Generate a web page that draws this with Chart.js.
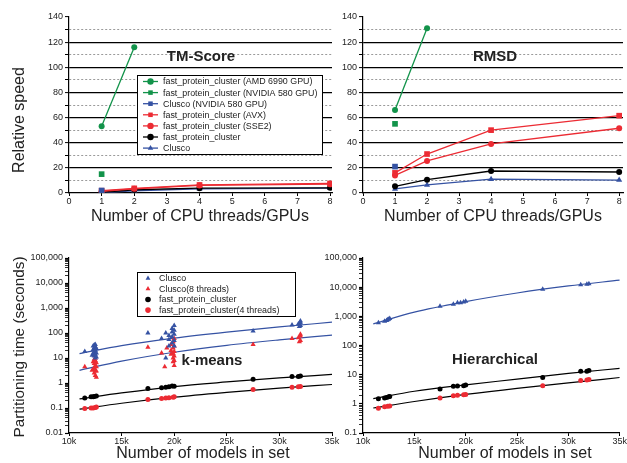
<!DOCTYPE html>
<html><head><meta charset="utf-8">
<script src="https://cdn.jsdelivr.net/npm/chart.js@4.4.1/dist/chart.umd.min.js"></script>
<style>
html,body{margin:0;padding:0;background:#fff;}
body{width:627px;height:463px;position:relative;overflow:hidden;}
canvas{position:absolute;left:0;top:0;}
</style></head><body>
<canvas id="tm" width="627" height="463"></canvas>
<canvas id="rmsd" width="627" height="463"></canvas>
<canvas id="km" width="627" height="463"></canvas>
<canvas id="hc" width="627" height="463"></canvas>
<script>
// ---------- DATA ----------
const threads = [1, 2, 4, 8];
const speedSeriesNames = [
  'fast_protein_cluster (AMD 6990 GPU)',
  'fast_protein_cluster (NVIDIA 580 GPU)',
  'Clusco (NVIDIA 580 GPU)',
  'fast_protein_cluster (AVX)',
  'fast_protein_cluster (SSE2)',
  'fast_protein_cluster',
  'Clusco'
];
// TM-Score relative speed
const tmAMD = [53, 116];
const tmNvidiaFpc = [15];
const tmNvidiaClusco = [2];
const tmAVX = [1.8, 3.7, 6.4, 7.6];
const tmSSE2 = [1.4, 3.3, 6.0, 7.0];
const tmFpc = [0.6, 2.6, 3.8, 4.1];
const tmClusco = [0.3, 1.8, 3.3, 3.8];
// RMSD relative speed
const rmsdAMD = [66, 131];
const rmsdNvidiaFpc = [55];
const rmsdNvidiaClusco = [21];
const rmsdAVX = [16, 31, 50, 61.5];
const rmsdSSE2 = [14, 25.5, 39, 51.5];
const rmsdFpc = [5.3, 10.6, 17.5, 16.7];
const rmsdClusco = [3.2, 6.4, 11, 10.3];

const speedTickStep = 10;

// Partitioning times
const timeSeriesNames = ['Clusco', 'Clusco(8 threads)', 'fast_protein_cluster', 'fast_protein_cluster(4 threads)'];
const modelTickLabels = ['10k', '15k', '20k', '25k', '30k', '35k'];

// k-means scatter
const kmCluscoX = [11500,12200,12300,12300,12300,12400,12400,12400,12400,12500,12500,12500,12500,12500,12600,12600,12600,17500,18800,19200,19200,19500,19500,19500,19800,19800,19800,19800,20000,20000,20000,20000,20000,27500,31200,31800,31900,32000,32000,32000];
const kmCluscoY = [18,13,15,22,30,12,18,25,33,10,14,20,28,35,11,16,24,100,60,100,10,30,55,80,40,70,110,150,30,50,90,130,200,120,210,230,180,200,260,300];
const kmClusco8X = [11500,12200,12300,12300,12400,12400,12400,12400,12500,12500,12500,12500,12500,12600,12600,12600,12600,17500,18800,19100,19300,19700,19700,19700,19900,19900,19900,19900,19900,20000,20000,20000,20000,20000,20000,27500,31200,31800,31900,32000,32000,32000];
const kmClusco8Y = [4.5,3.2,3.5,7,2.5,4,6,9,2,3,5,8,10,1.7,3,4.5,6.5,27,16,4.5,25,14,20,35,7,10,15,25,45,5,8,12,18,30,60,35,60,65,45,50,75,90];
const kmFpcX = [11500,12100,12300,12400,12600,17500,18800,19200,19500,19800,20000,27500,31200,31800,32000];
const kmFpcY = [0.25,0.28,0.28,0.29,0.3,0.6,0.65,0.67,0.7,0.75,0.74,1.4,1.8,1.8,1.9];
const kmFpc4X = [11500,12100,12300,12500,12600,17500,18800,19200,19500,19900,20000,27500,31200,31800,32000];
const kmFpc4Y = [0.095,0.1,0.1,0.105,0.11,0.22,0.24,0.25,0.26,0.27,0.28,0.55,0.67,0.7,0.72];

// hierarchical scatter
const hcCluscoX = [11500,12100,12300,12400,12500,12600,17500,18800,19200,19500,19800,20000,27500,31200,31800,32000];
const hcCluscoY = [600,680,720,760,800,850,2200,2600,2900,2900,3100,3300,8500,12000,12500,13000];
const hcFpcX = [11500,12100,12300,12500,12600,17500,18800,19200,19800,20000,27500,31200,31800,32000];
const hcFpcY = [1.5,1.6,1.65,1.75,1.8,3.2,4,4.1,4.2,4.4,8,13,13,14];
const hcFpc4X = [11500,12100,12400,12600,17500,18800,19200,19800,20000,27500,31200,31800,32000];
const hcFpc4Y = [0.7,0.8,0.82,0.85,1.6,1.9,1.95,2.05,2.1,4.2,6.3,6.5,6.8];

// fitted curves
const fitX = [11000, 15000, 20000, 25000, 30000, 35000];
const kmFitClusco = [15, 31, 62, 108, 175, 270];
const kmFitClusco8 = [3.2, 7.5, 17, 32, 53, 83];
const kmFitFpc = [0.23, 0.4, 0.72, 1.1, 1.6, 2.2];
const kmFitFpc4 = [0.09, 0.155, 0.27, 0.42, 0.62, 0.87];
const hcFitClusco = [550, 1400, 3200, 6300, 11000, 17500];
const hcFitFpc = [1.5, 2.7, 4.5, 7, 11, 16.5];
const hcFitFpc4 = [0.72, 1.2, 2.1, 3.4, 5.2, 8];

// ---------- STYLE ----------
const FONT = '"Liberation Sans", Arial, Helvetica, sans-serif';
const GREEN = '#12934a', RED = '#ec2b33', BLUE = '#3552a3', BLACK = '#000000';
const speedStyles = [
  {c: GREEN, s: 'circle', r: 3},
  {c: GREEN, s: 'rect', r: 4},
  {c: BLUE, s: 'rect', r: 4},
  {c: RED, s: 'rect', r: 4},
  {c: RED, s: 'circle', r: 3},
  {c: BLACK, s: 'circle', r: 3},
  {c: BLUE, s: 'triangle', r: 3.5}
];

function pts(xs, ys) { return ys.map((y, i) => ({x: xs[i], y: y})); }

function speedDatasets(series) {
  return series.map((ys, i) => {
    const st = speedStyles[i];
    return {
      label: speedSeriesNames[i], data: pts(threads, ys), showLine: true,
      borderColor: st.c, backgroundColor: st.c, borderWidth: 1.3,
      pointStyle: st.s, pointRadius: st.r, pointBackgroundColor: st.c, pointBorderColor: st.c, pointBorderWidth: 0
    };
  });
}

function scatterSet(label, xs, ys, color, style, r) {
  return {label, data: pts(xs, ys), showLine: false, pointStyle: style, pointRadius: r,
    pointBackgroundColor: color, pointBorderColor: color, pointBorderWidth: 0, borderColor: color, backgroundColor: color};
}
function fitSet(ys, color) {
  return {label: '', data: pts(fitX, ys), showLine: true, pointRadius: 0, borderColor: color, borderWidth: 1.2,
    cubicInterpolationMode: 'monotone'};
}

const tickFont = {family: FONT, size: 9};
const TICKCOL = '#222';

function speedScales(xmax) {
  return {
    x: {type: 'linear', min: 0, max: xmax,
      ticks: {stepSize: 1, includeBounds: false, autoSkip: false, maxRotation: 0, padding: 0, color: TICKCOL, font: tickFont},
      afterBuildTicks: s => { s.ticks = s.ticks.filter(t => Number.isInteger(t.value)); },
      grid: {drawOnChartArea: false, tickLength: 3, tickColor: '#000', tickWidth: 1},
      border: {color: '#000', width: 1.2},
      afterFit: s => { s.height = 30; }},
    y: {type: 'linear', min: 0, max: 140,
      ticks: {stepSize: speedTickStep, autoSkip: false, padding: 2, color: TICKCOL, font: tickFont,
        callback: v => (v % 20 === 0 ? String(v) : '')},
      grid: {tickLength: 4, tickColor: '#000', tickWidth: 1,
        color: c => { const v = c.tick ? c.tick.value : 0; if (v <= 0 || v >= 140) return 'rgba(0,0,0,0)'; return v % 20 === 0 ? '#000' : '#9a9a9a'; },
        lineWidth: c => { const v = c.tick ? c.tick.value : 0; return v % 20 === 0 ? 1.2 : 1; }},
      border: {color: '#000', width: 1.2, dash: c => (c.tick && c.tick.value % 20 !== 0) ? [2, 2] : []},
      afterFit: s => { s.width = 69; }}
  };
}

function isPow10(v) { const l = Math.log10(v); return Math.abs(l - Math.round(l)) < 1e-6; }
function timeScales(ymin) {
  return {
    x: {type: 'linear', min: 10000, max: 35000,
      ticks: {stepSize: 5000, autoSkip: false, maxRotation: 0, padding: 0, color: TICKCOL, font: tickFont,
        callback: (v, i) => modelTickLabels[Math.round((v - 10000) / 5000)] || ''},
      grid: {drawOnChartArea: false, tickLength: 3, tickColor: '#000'},
      border: {color: '#000', width: 1.2},
      afterFit: s => { s.height = 30; }},
    y: {type: 'logarithmic', min: ymin, max: 100000,
      afterBuildTicks: s => { s.ticks = s.ticks.filter(t => { const e = Math.floor(Math.log10(t.value) + 1e-9); const m = t.value / Math.pow(10, e); return Math.abs(m - Math.round(m)) < 1e-6; }); },
      ticks: {autoSkip: false, padding: 2, color: TICKCOL, font: tickFont,
        callback: v => isPow10(v) ? Number(v).toLocaleString('en-US', {maximumFractionDigits: 2}) : ''},
      grid: {drawOnChartArea: false, tickLength: 4, tickColor: '#000', tickWidth: c => (c.tick && isPow10(c.tick.value)) ? 1.2 : 0.8},
      border: {color: '#000', width: 1.2},
      afterFit: s => { s.width = 69; }}
  };
}

// ---------- decoration plugin (legend box + titles) ----------
const deco = {
  id: 'deco',
  afterDraw(chart, args, o) {
    const ctx = chart.ctx;
    ctx.save();
    if (o.legend) {
      const L = o.legend;
      ctx.fillStyle = '#fff';
      ctx.fillRect(L.x, L.y, L.w, L.h);
      ctx.strokeStyle = '#000'; ctx.lineWidth = 1;
      ctx.strokeRect(L.x + 0.5, L.y + 0.5, L.w, L.h);
      ctx.font = L.font; ctx.textBaseline = 'middle'; ctx.textAlign = 'left';
      L.items.forEach((dsi, i) => {
        const ds = chart.data.datasets[dsi];
        const cy = L.y + L.first + i * L.step;
        if (L.lines) {
          ctx.strokeStyle = ds.borderColor; ctx.lineWidth = 1.3;
          ctx.beginPath(); ctx.moveTo(L.x + L.lx0, cy); ctx.lineTo(L.x + L.lx1, cy); ctx.stroke();
        }
        ctx.fillStyle = ds.pointBackgroundColor; ctx.strokeStyle = ds.pointBorderColor;
        Chart.helpers.drawPoint(ctx, {pointStyle: ds.pointStyle, radius: L.r, borderWidth: 0, rotation: 0}, L.x + L.mx, cy);
        ctx.fillStyle = '#222';
        ctx.fillText(ds.label, L.x + L.tx, cy + 0.5);
      });
    }
    (o.texts || []).forEach(t => {
      ctx.save();
      ctx.font = t.font; ctx.fillStyle = t.color || '#222';
      ctx.textAlign = 'center'; ctx.textBaseline = 'middle';
      ctx.translate(t.x, t.y);
      if (t.rot) ctx.rotate(t.rot);
      ctx.fillText(t.t, 0, 0);
      ctx.restore();
    });
    ctx.restore();
  }
};

function baseOptions(padding, scales, decoOpts) {
  return {responsive: false, animation: false, events: [],
    layout: {padding},
    scales,
    plugins: {legend: {display: false}, tooltip: {enabled: false}, deco: decoOpts}};
}

const AX = '16px ' + FONT;
const AXY = '15.3px ' + FONT;
const TITLE = 'bold 15px ' + FONT;
const LEG = '8.9px ' + FONT;

new Chart(document.getElementById('tm'), {
  type: 'scatter',
  data: {datasets: speedDatasets([tmAMD, tmNvidiaFpc, tmNvidiaClusco, tmAVX, tmSSE2, tmFpc, tmClusco])},
  options: baseOptions({left: 0, right: 295, top: 17, bottom: 240}, speedScales(8.06), {
    legend: {x: 137, y: 75, w: 185, h: 79, first: 6.5, step: 11.1, lines: true, lx0: 6, lx1: 21, mx: 13.5, tx: 26, r: 3.2, font: LEG, items: [0,1,2,3,4,5,6]},
    texts: [
      {t: 'Relative speed', x: 20, y: 120, font: AX, rot: -Math.PI / 2},
      {t: 'Number of CPU threads/GPUs', x: 200, y: 217, font: AX},
      {t: 'TM-Score', x: 201, y: 57, font: TITLE}
    ]}),
  plugins: [deco]
});

new Chart(document.getElementById('rmsd'), {
  type: 'scatter',
  data: {datasets: speedDatasets([rmsdAMD, rmsdNvidiaFpc, rmsdNvidiaClusco, rmsdAVX, rmsdSSE2, rmsdFpc, rmsdClusco])},
  options: baseOptions({left: 294, right: 0, top: 17, bottom: 240}, speedScales(8.12), {
    texts: [
      {t: 'Number of CPU threads/GPUs', x: 493, y: 217, font: AX},
      {t: 'RMSD', x: 495, y: 57, font: TITLE}
    ]}),
  plugins: [deco]
});

new Chart(document.getElementById('km'), {
  type: 'scatter',
  data: {datasets: [
    scatterSet(timeSeriesNames[0], kmCluscoX, kmCluscoY, BLUE, 'triangle', 3),
    scatterSet(timeSeriesNames[1], kmClusco8X, kmClusco8Y, RED, 'triangle', 3),
    scatterSet(timeSeriesNames[2], kmFpcX, kmFpcY, BLACK, 'circle', 2.5),
    scatterSet(timeSeriesNames[3], kmFpc4X, kmFpc4Y, RED, 'circle', 2.5),
    fitSet(kmFitClusco, BLUE), fitSet(kmFitClusco8, BLUE), fitSet(kmFitFpc, BLACK), fitSet(kmFitFpc4, BLACK)
  ]},
  options: baseOptions({left: 0, right: 295, top: 258, bottom: 0}, timeScales(0.01), {
    legend: {x: 137, y: 272, w: 158, h: 44, first: 6.3, step: 10.6, lines: false, mx: 11, tx: 22, r: 2.8, font: LEG, items: [0,1,2,3]},
    texts: [
      {t: 'Partitioning time (seconds)', x: 20, y: 347, font: AXY, rot: -Math.PI / 2},
      {t: 'Number of models in set', x: 203, y: 454, font: AX},
      {t: 'k-means', x: 212, y: 361, font: TITLE}
    ]}),
  plugins: [deco]
});

new Chart(document.getElementById('hc'), {
  type: 'scatter',
  data: {datasets: [
    scatterSet(timeSeriesNames[0], hcCluscoX, hcCluscoY, BLUE, 'triangle', 3),
    scatterSet(timeSeriesNames[2], hcFpcX, hcFpcY, BLACK, 'circle', 2.5),
    scatterSet(timeSeriesNames[3], hcFpc4X, hcFpc4Y, RED, 'circle', 2.5),
    fitSet(hcFitClusco, BLUE), fitSet(hcFitFpc, BLACK), fitSet(hcFitFpc4, BLACK)
  ]},
  options: baseOptions({left: 294, right: 1, top: 258, bottom: 0}, timeScales(0.1), {
    texts: [
      {t: 'Number of models in set', x: 505, y: 454, font: AX},
      {t: 'Hierarchical', x: 495, y: 360, font: TITLE}
    ]}),
  plugins: [deco]
});
</script>
</body></html>
